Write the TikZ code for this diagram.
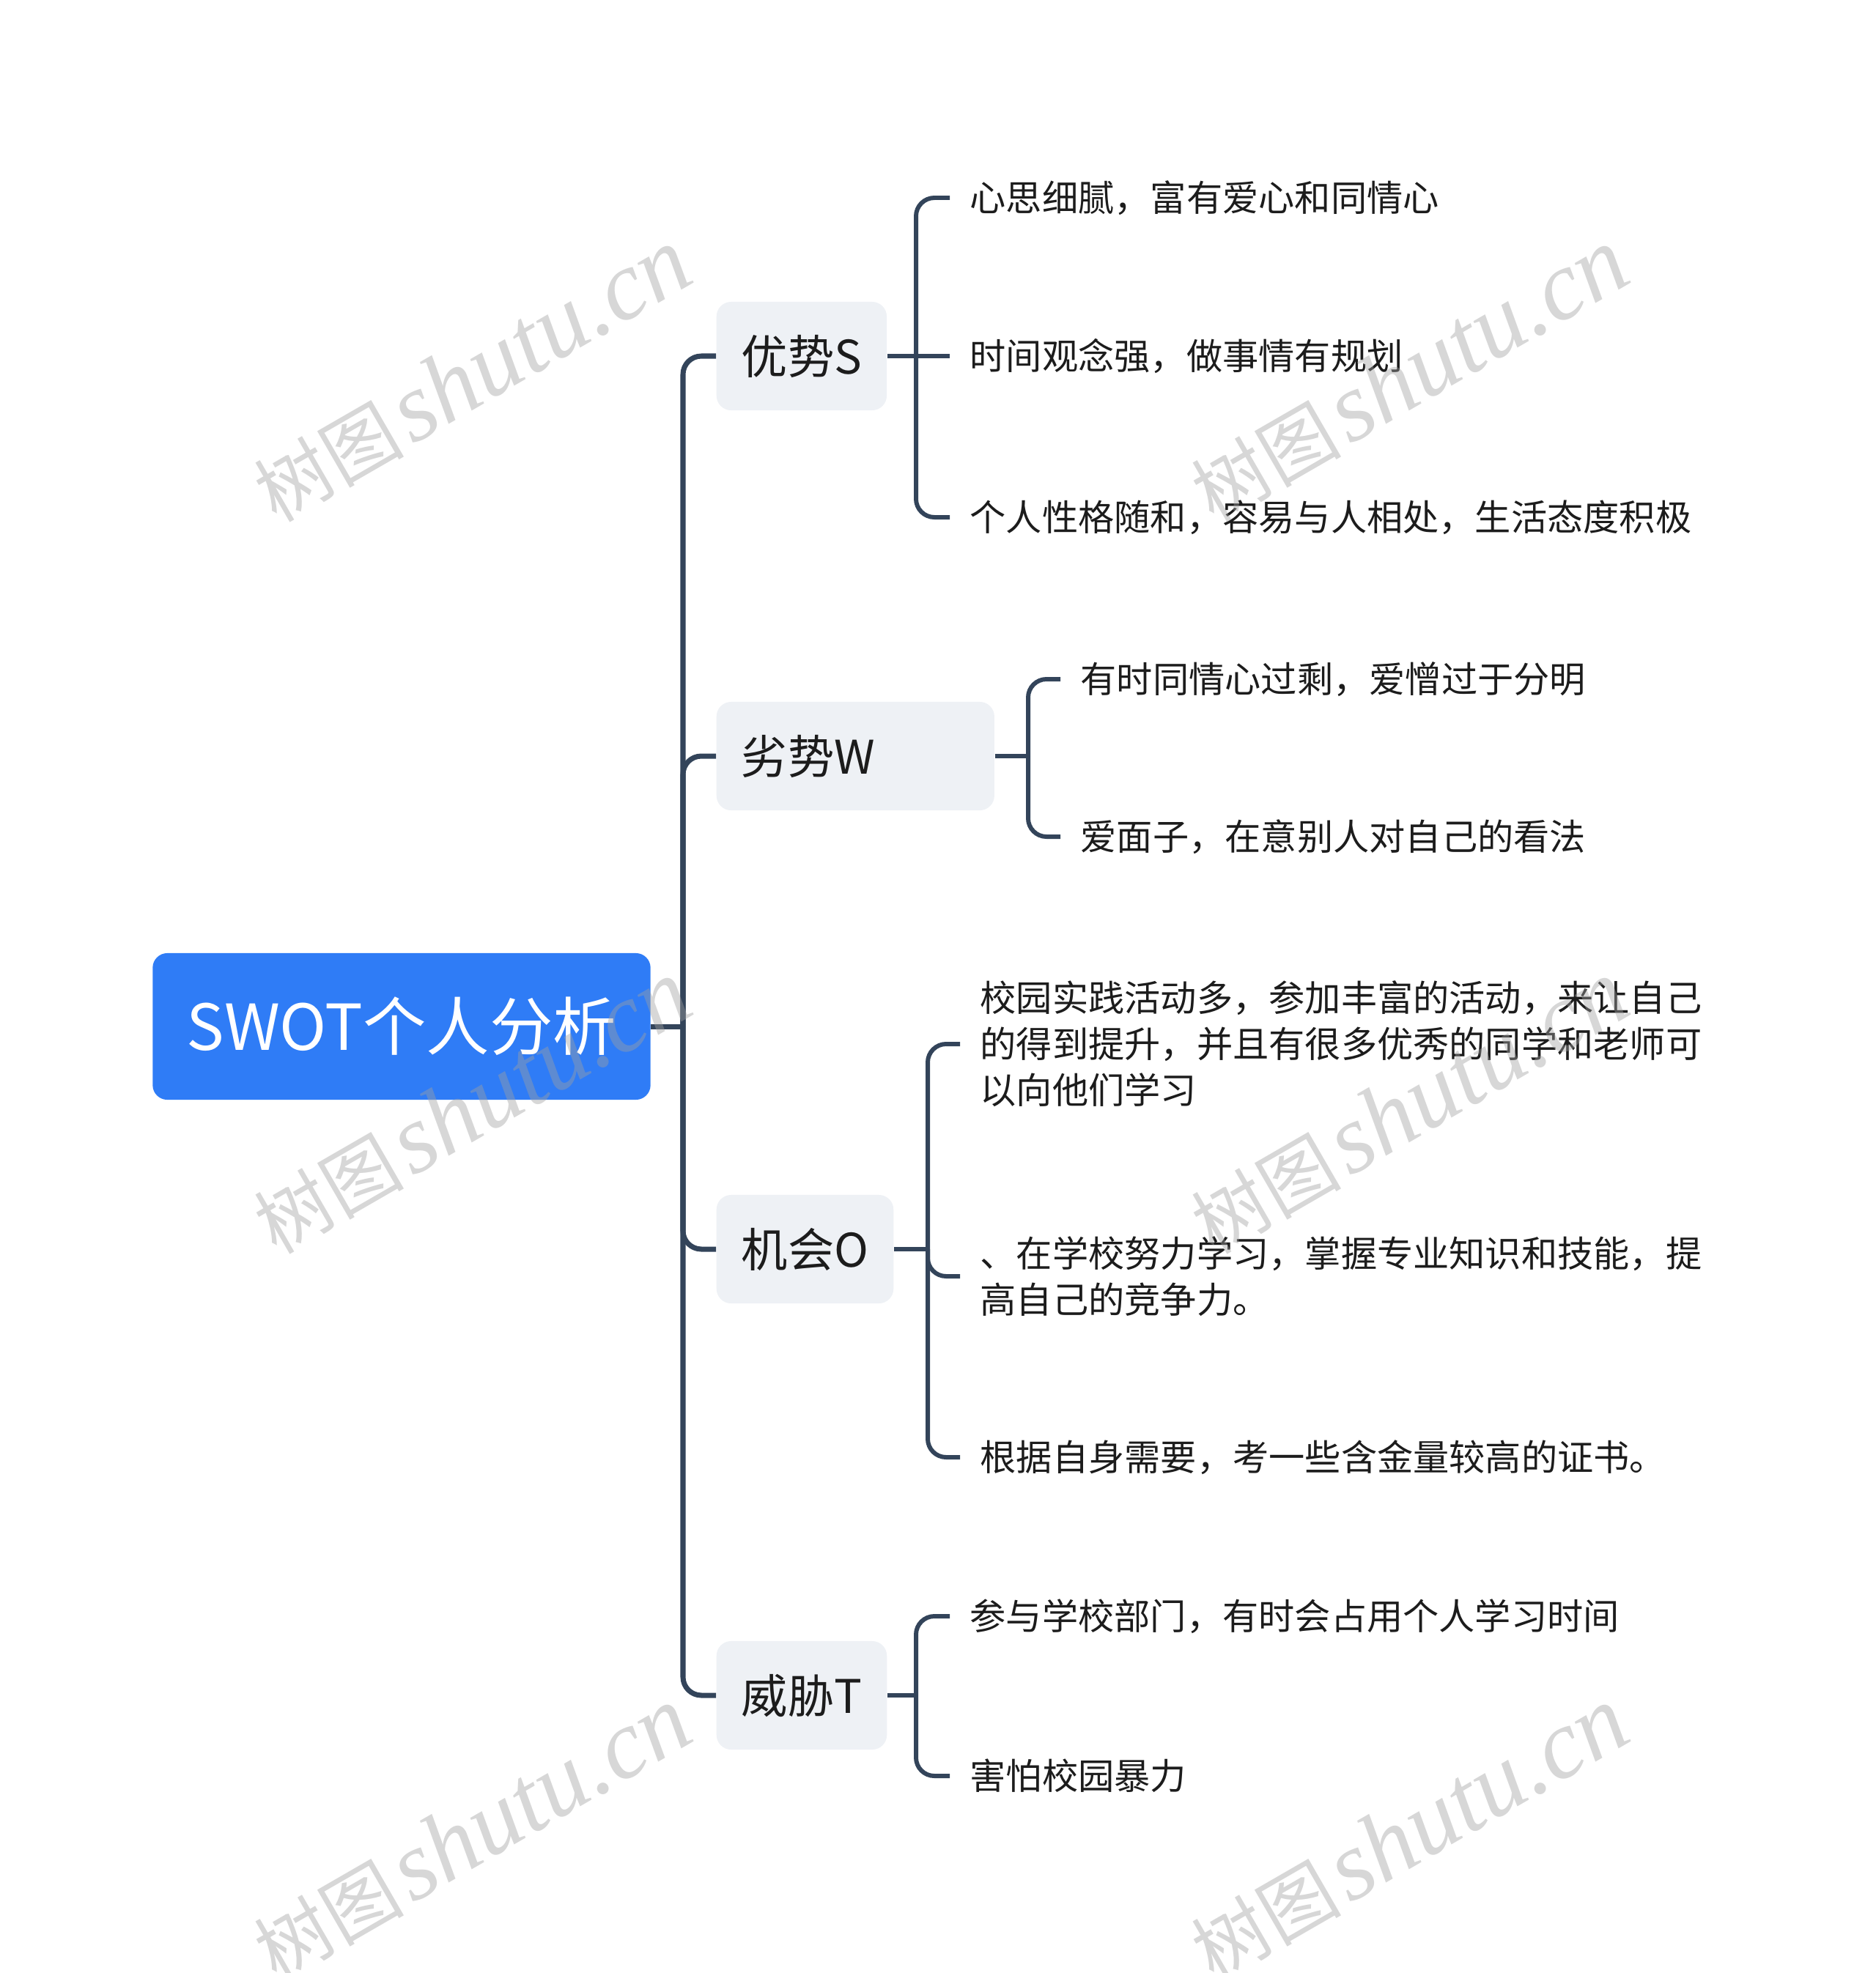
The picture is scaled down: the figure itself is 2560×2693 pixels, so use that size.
\documentclass[tikz,border=0pt]{standalone}
\usepackage{fontspec}
\newfontfamily\cjk{Noto Sans CJK SC}
\newfontfamily\wmserif{Liberation Serif}
\usetikzlibrary{positioning}
\definecolor{rootblue}{HTML}{2F7CF6}
\definecolor{branchgray}{HTML}{EEF1F5}
\definecolor{linenavy}{HTML}{33445A}
\definecolor{inkblack}{HTML}{1C1C1C}
\definecolor{wmgray}{HTML}{A0A0A0}
\tikzset{
  % Tema centrale
  root/.style={rectangle,rounded corners=0.2cm,fill=rootblue,text=white,font=\cjk\fontsize{24.6}{28}\selectfont,minimum width=6.79cm,minimum height=2cm,inner sep=0},
  % Rami
  branch/.style={rectangle,rounded corners=0.2cm,fill=branchgray,text=inkblack,font=\cjk\fontsize{18}{22}\selectfont,minimum height=1.48cm,inner xsep=0.34cm,inner ysep=0,anchor=west},
  % Foglie
  leaf/.style={text=inkblack,font=\cjk\fontsize{14}{17.9}\selectfont,align=left,inner xsep=0.27cm,inner ysep=0,anchor=west},
  % Connessioni
  trunk/.style={line width=2pt,linenavy,rounded corners=0.25cm},
  twig/.style={line width=1.7pt,linenavy,rounded corners=0.25cm},
  watermark/.style={rotate=30,text=wmgray,text opacity=0.42,inner sep=0}
}
\begin{document}
\begin{tikzpicture}[x=0.01cm,y=-0.01cm]
  \useasboundingbox (0,0) rectangle (2560,2693);
  \node[root] (swot) at (548,1401) {SWOT个人分析};
  \node[branch] (S) at (977,486) {优势S};
  \node[branch,text width=3.11cm,align=left] (W) at (977,1032) {劣势W};
  \node[branch] (O) at (977,1705) {机会O};
  \node[branch] (T) at (977,2314) {威胁T};
  \coordinate (hub) at (932,1401);
  \draw[trunk] (swot.east) -- (hub);
  \draw[trunk] (hub) |- (S.west);
  \draw[trunk] (hub) |- (W.west);
  \draw[trunk] (hub) |- (O.west);
  \draw[trunk] (hub) |- (T.west);
  % S
  \node[leaf] (S1) at (1296,270) {心思细腻，富有爱心和同情心};
  \node[leaf] (S2) at (1296,486) {时间观念强，做事情有规划};
  \node[leaf] (S3) at (1296,706) {个人性格随和，容易与人相处，生活态度积极};
  \coordinate (Sfork) at (1250,486);
  \draw[twig] (S.east) -- (Sfork);
  \draw[twig] (Sfork) |- (S1.west);
  \draw[twig] (Sfork) -- (S2.west);
  \draw[twig] (Sfork) |- (S3.west);
  % W
  \node[leaf] (W1) at (1447,927) {有时同情心过剩，爱憎过于分明};
  \node[leaf] (W2) at (1447,1142) {爱面子，在意别人对自己的看法};
  \coordinate (Wfork) at (1403,1032);
  \draw[twig] (W.east) -- (Wfork);
  \draw[twig] (Wfork) |- (W1.west);
  \draw[twig] (Wfork) |- (W2.west);
  % O
  \node[leaf] (O1) at (1310,1425) {校园实践活动多，参加丰富的活动，来让自己\\的得到提升，并且有很多优秀的同学和老师可\\以向他们学习};
  \node[leaf] (O2) at (1310,1742) {、在学校努力学习，掌握专业知识和技能，提\\高自己的竞争力。};
  \node[leaf] (O3) at (1310,1989) {根据自身需要，考一些含金量较高的证书。};
  \coordinate (Ofork) at (1266,1705);
  \draw[twig] (O.east) -- (Ofork);
  \draw[twig] (Ofork) |- (O1.west);
  \draw[twig] (Ofork) |- (O2.west);
  \draw[twig] (Ofork) |- (O3.west);
  % T
  \node[leaf] (T1) at (1296,2206) {参与学校部门，有时会占用个人学习时间};
  \node[leaf] (T2) at (1296,2424) {害怕校园暴力};
  \coordinate (Tfork) at (1250,2314);
  \draw[twig] (T.east) -- (Tfork);
  \draw[twig] (Tfork) |- (T1.west);
  \draw[twig] (Tfork) |- (T2.west);
  % filigrana
  \foreach \wx/\wy [count=\k] in {644/512,1923/512,644/1511,1923/1511,644/2503,1923/2503}
    \node[watermark] (wm\k) at (\wx,\wy) {{\cjk\fontsize{29}{29}\selectfont 树图}\hspace{0.3em}{\wmserif\itshape\fontsize{38}{38}\selectfont shutu.cn}};
\end{tikzpicture}
\end{document}
